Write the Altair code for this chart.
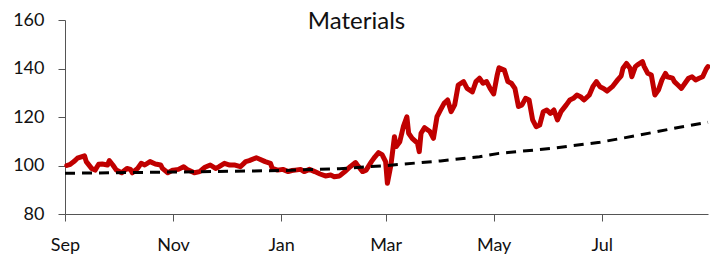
import altair as alt
import pandas as pd

# Red series: day offsets from 1 Sep and index values
red_days = [1, 3, 5, 7, 11, 12, 15, 17, 19, 21, 24, 25, 27, 29, 32, 35, 37, 38, 41, 43,
            45, 48, 51, 54, 55, 58, 61, 64, 67, 69, 73, 76, 79, 82, 85, 87, 90, 93, 96, 99,
            102, 104, 108, 110, 113, 116, 117, 120, 123, 126, 128, 130, 133, 135, 138, 141, 144, 147, 150, 152,
            155, 158, 161, 164, 165, 168, 170, 173, 175, 177, 179, 181, 182, 184, 186, 187, 189, 191, 193, 194,
            196, 199, 200, 201, 203, 206, 208, 210, 212, 214, 216, 218, 220, 222, 225, 227, 230, 232, 234, 236,
            238, 240, 242, 244, 245, 248, 250, 252, 254, 256, 258, 260, 262, 264, 266, 268, 270, 272, 274, 276,
            278, 280, 283, 285, 287, 289, 291, 293, 296, 298, 300, 302, 304, 306, 309, 312, 314, 315, 317, 319,
            320, 322, 323, 326, 327, 329, 331, 333, 335, 337, 339, 340, 343, 344, 346, 348, 350, 352, 354, 356,
            358, 360, 362, 363]
red_vals = [100.0, 100.5, 101.6, 103.0, 104.0, 101.6, 98.8, 98.1, 100.5, 100.6, 100.2, 102.0, 100.2, 98.1, 97.0, 98.8, 98.4, 97.0, 98.8, 100.9,
            100.2, 101.6, 100.6, 100.2, 98.8, 97.0, 98.1, 98.4, 99.5, 98.4, 97.0, 97.5, 99.3, 100.2, 98.8, 99.5, 100.9, 100.2, 100.2, 99.5,
            101.6, 102.0, 103.2, 102.6, 101.6, 100.9, 98.8, 98.1, 98.4, 97.5, 97.9, 98.1, 98.4, 97.5, 98.4, 97.5, 96.5, 95.7, 96.1, 95.4,
            95.7, 97.5, 99.5, 101.2, 100.2, 97.5, 98.1, 101.6, 103.6, 105.3, 104.5, 101.6, 92.7, 100.2, 111.9, 107.8, 109.8, 116.0, 120.1, 113.3,
            111.2, 109.2, 105.7, 113.3, 115.6, 114.0, 111.2, 120.1, 122.9, 125.6, 127.0, 122.2, 125.0, 133.2, 134.6, 131.8, 130.4, 134.6, 136.0, 133.9,
            134.6, 131.8, 129.5, 137.3, 140.3, 139.4, 134.6, 133.9, 131.8, 124.3, 125.0, 127.7, 127.0, 118.8, 116.0, 116.7, 122.2, 122.9, 121.5, 122.9,
            118.8, 122.2, 125.0, 127.0, 127.7, 129.1, 128.4, 127.0, 129.1, 132.5, 134.6, 132.5, 131.8, 130.7, 132.5, 135.3, 137.0, 140.1, 142.1, 140.1,
            136.6, 140.8, 141.4, 142.8, 140.8, 138.0, 137.3, 129.1, 131.1, 135.3, 138.0, 136.6, 136.0, 134.6, 133.2, 131.8, 133.9, 136.0, 136.6, 135.3,
            136.0, 136.6, 139.8, 140.8]

# Dashed series (average)
avg_days = [0, 61, 121, 155, 182, 212, 234, 245, 274, 302, 324, 347, 363]
avg_vals = [96.8, 97.3, 97.9, 98.7, 100.0, 101.9, 103.6, 105.0, 107.0, 109.6, 112.5, 115.8, 117.8]

y_ticks = [80, 100, 120, 140, 160]
tick_months = [(2020, 9), (2020, 11), (2021, 1), (2021, 3), (2021, 5), (2021, 7)]

start = pd.Timestamp("2020-09-01")
red_df = pd.DataFrame({
    "date": (start + pd.to_timedelta(red_days, unit="D")).strftime("%Y-%m-%d"),
    "value": red_vals,
})
avg_df = pd.DataFrame({
    "date": (start + pd.to_timedelta(avg_days, unit="D")).strftime("%Y-%m-%d"),
    "value": avg_vals,
})

FONT = "Lato"

x_scale = alt.Scale(
    type="utc",
    domain=[alt.DateTime(year=2020, month=9, date=1, utc=True),
            alt.DateTime(year=2021, month=8, date=30, utc=True)],
)
x_axis = alt.Axis(
    values=[alt.DateTime(year=y, month=m, date=1, utc=True) for y, m in tick_months],
    labelExpr="utcFormat(datum.value, '%b')", title=None, grid=False,
    labelFontSize=18, labelFont=FONT, labelColor="#111111",
    tickSize=7, labelPadding=15, domainColor="#555555", tickColor="#555555",
    labelFlush=False,
)
y_scale = alt.Scale(domain=[80, 160], nice=False, zero=False)
y_axis = alt.Axis(
    values=y_ticks, title=None, grid=False,
    labelFontSize=18, labelFont=FONT, labelColor="#111111",
    tickSize=7, labelPadding=14, domainColor="#555555", tickColor="#555555",
)

red = alt.Chart(red_df).mark_line(color="#C00000", strokeWidth=5, strokeJoin="round", strokeCap="round").encode(
    x=alt.X("date:T", scale=x_scale, axis=x_axis),
    y=alt.Y("value:Q", scale=y_scale, axis=y_axis),
)
avg = alt.Chart(avg_df).mark_line(color="#000000", strokeWidth=3, strokeDash=[10, 7]).encode(
    x=alt.X("date:T", scale=x_scale, axis=x_axis),
    y=alt.Y("value:Q", scale=y_scale, axis=y_axis),
)

chart = alt.layer(red, avg).properties(
    width=643, height=194,
    padding={"left": 57, "top": 12, "right": 2, "bottom": 40},
    autosize=alt.AutoSizeParams(type="none"),
    title=alt.TitleParams(
        text="Materials", fontSize=24, font=FONT, fontWeight="normal", color="#111111",
        anchor="middle", frame="group", offset=0, baseline="alphabetic", dx=-30, dy=42,
    ),
).configure_view(stroke=None)

chart.save("out.html", embed_options={"renderer": "svg", "actions": False})
